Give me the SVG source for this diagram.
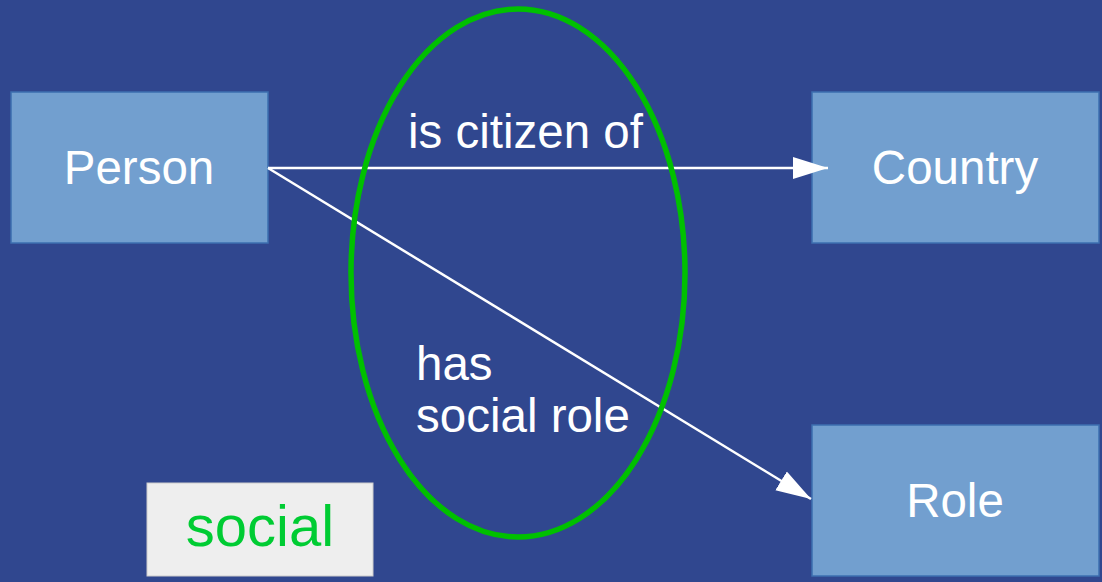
<svg xmlns="http://www.w3.org/2000/svg" width="1102" height="582" viewBox="0 0 1102 582">
<style>
.box{fill:#729fcf;stroke:#3d6fb0;stroke-width:1.5}
.lbl{font-family:"Liberation Sans",Arial,sans-serif;font-size:47.5px;fill:#ffffff}
.mid{text-anchor:middle}
.edge{stroke:#ffffff;stroke-width:2.5;fill:none}
</style>
<defs>
<marker id="ah" markerUnits="userSpaceOnUse" markerWidth="36" markerHeight="24" refX="35" refY="12" orient="auto">
<path d="M0,1 L35,12 L0,23 Z" fill="#ffffff"/>
</marker>
</defs>
<rect x="0" y="0" width="1102" height="582" fill="#30478f"/>
<g id="person"><rect class="box" x="11" y="92" width="257" height="151"/><text class="lbl mid" x="139" y="184">Person</text></g>
<g id="country"><rect class="box" x="812" y="92" width="287" height="151"/><text class="lbl mid" x="955" y="184">Country</text></g>
<g id="role"><rect class="box" x="812" y="425" width="287" height="151"/><text class="lbl mid" x="955" y="517">Role</text></g>
<g id="social"><rect x="147" y="483" width="226" height="93" fill="#eeeeee" stroke="#cccccc" stroke-width="1"/><text class="mid" x="260" y="546" font-family="Liberation Sans,Arial,sans-serif" font-size="58" fill="#00cc33">social</text></g>
<g id="connectors">
<line class="edge" x1="268" y1="168" x2="828" y2="168" marker-end="url(#ah)"/>
<line class="edge" x1="268" y1="168" x2="811" y2="499" marker-end="url(#ah)"/>
</g>
<g id="labels">
<text class="lbl" x="408" y="148">is citizen of</text>
<text class="lbl" x="416" y="380">has</text>
<text class="lbl" x="416" y="432">social role</text>
</g>
<g id="group"><ellipse cx="518" cy="273" rx="167" ry="264" fill="none" stroke="#00c000" stroke-width="5.5"/></g>
</svg>
